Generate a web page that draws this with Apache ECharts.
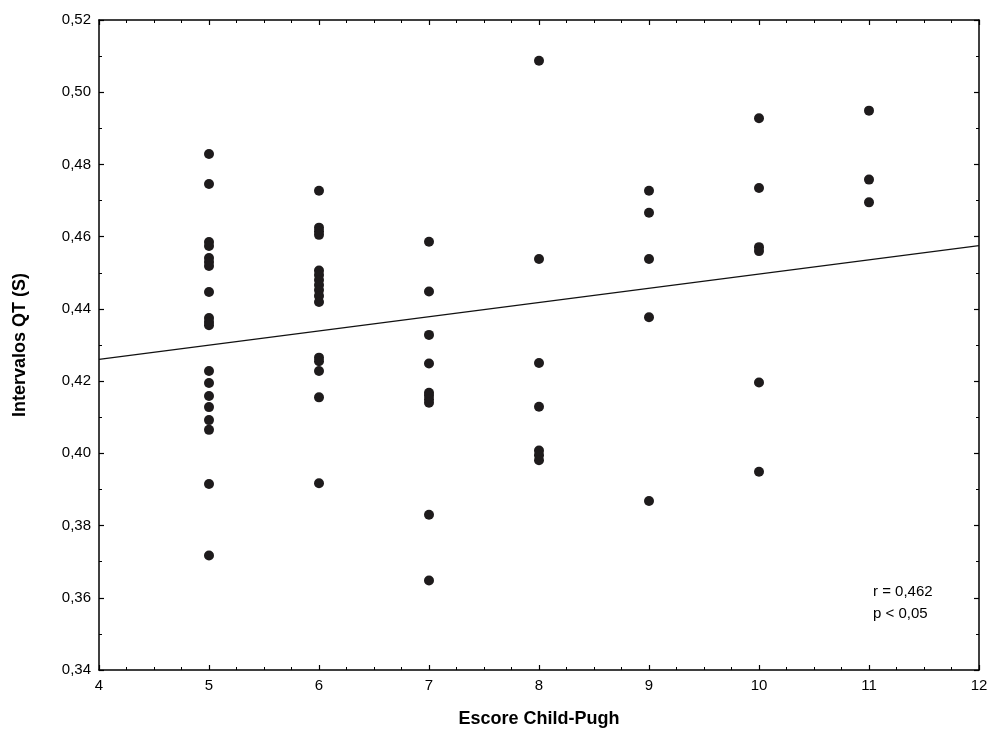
<!DOCTYPE html>
<html>
<head>
<meta charset="utf-8">
<script src="https://cdn.jsdelivr.net/npm/echarts@6/dist/echarts.min.js"></script>
<style>
  html, body { margin: 0; padding: 0; background: #fff; }
  #chart { width: 994px; height: 738px; }
</style>
</head>
<body>
<div id="chart"></div>
<script>
var myChart = echarts.init(document.getElementById('chart'));

// Child-Pugh score for each group of points
var scores = [5, 6, 7, 8, 9, 10, 11];
// QT intervals (s) read per score
var qt5 = [0.4829, 0.4746, 0.4585, 0.4574, 0.4541, 0.4530, 0.4519, 0.4447, 0.4375, 0.4364, 0.4355,
           0.4228, 0.4195, 0.4159, 0.4128, 0.4092, 0.4065, 0.3915, 0.3717];
var qt6 = [0.4727, 0.4625, 0.4615, 0.4605, 0.4506, 0.4494, 0.4480, 0.4466, 0.4452, 0.4436, 0.4419,
           0.4265, 0.4255, 0.4228, 0.4155, 0.3917];
var qt7 = [0.4586, 0.4448, 0.4328, 0.4249, 0.4168, 0.4160, 0.4150, 0.4140, 0.3830, 0.3648];
var qt8 = [0.5087, 0.4538, 0.4250, 0.4129, 0.4008, 0.3995, 0.3981];
var qt9 = [0.4727, 0.4666, 0.4538, 0.4377, 0.3868];
var qt10 = [0.4928, 0.4735, 0.4571, 0.4560, 0.4196, 0.3949];
var qt11 = [0.4949, 0.4758, 0.4695];
// regression line end points [score, qt]
var fitLine = [[4, 0.4260], [12, 0.4575]];
var statsText = ['r = 0,462', 'p < 0,05'];

var groups = [qt5, qt6, qt7, qt8, qt9, qt10, qt11];
var points = [];
groups.forEach(function (g, i) {
  g.forEach(function (v) { points.push([scores[i], v]); });
});

var font = 'Liberation Sans, Arial, sans-serif';
var axisLine = { show: true, onZero: false, lineStyle: { color: '#000', width: 1.5 } };

var option = {
  animation: false,
  backgroundColor: '#fff',
  grid: { left: 99, right: 15, top: 20, bottom: 68 },
  xAxis: [{
    type: 'value', min: 4, max: 12, interval: 1, position: 'bottom',
    name: 'Escore Child-Pugh', nameLocation: 'middle', nameGap: 40,
    nameTextStyle: { fontFamily: font, fontSize: 18, fontWeight: 'bold', color: '#000' },
    axisLine: axisLine,
    axisTick: { inside: true, length: 5, lineStyle: { color: '#000', width: 1.2 } },
    minorTick: { show: true, splitNumber: 4, length: 3, lineStyle: { color: '#000', width: 1 } },
    axisLabel: { fontFamily: font, fontSize: 15, color: '#000', margin: 8 },
    splitLine: { show: false }
  }, {
    type: 'value', min: 4, max: 12, interval: 1, position: 'top',
    axisLine: axisLine,
    axisTick: { inside: true, length: 5, lineStyle: { color: '#000', width: 1.2 } },
    minorTick: { show: true, splitNumber: 4, length: 3, lineStyle: { color: '#000', width: 1 } },
    axisLabel: { show: false },
    splitLine: { show: false }
  }],
  yAxis: [{
    type: 'value', min: 0.34, max: 0.52, interval: 0.02, position: 'left',
    name: 'Intervalos QT (S)', nameLocation: 'middle', nameGap: 70, nameRotate: 90,
    nameTextStyle: { fontFamily: font, fontSize: 18, fontWeight: 'bold', color: '#000' },
    axisLine: axisLine,
    axisTick: { inside: true, length: 5, lineStyle: { color: '#000', width: 1.2 } },
    minorTick: { show: true, splitNumber: 2, length: 3, lineStyle: { color: '#000', width: 1 } },
    axisLabel: {
      fontFamily: font, fontSize: 15, color: '#000', margin: 8,
      formatter: function (v) { return v.toFixed(2).replace('.', ','); }
    },
    splitLine: { show: false }
  }, {
    type: 'value', min: 0.34, max: 0.52, interval: 0.02, position: 'right',
    axisLine: axisLine,
    axisTick: { inside: true, length: 5, lineStyle: { color: '#000', width: 1.2 } },
    minorTick: { show: true, splitNumber: 2, length: 3, lineStyle: { color: '#000', width: 1 } },
    axisLabel: { show: false },
    splitLine: { show: false }
  }],
  graphic: [{
    type: 'text', left: 873, top: 581,
    style: { text: statsText.join('\n'), font: '15px ' + font, fill: '#000', lineHeight: 22 }
  }],
  series: [{
    type: 'line',
    data: fitLine,
    symbol: 'none',
    lineStyle: { color: '#111', width: 1.3 },
    z: 1
  }, {
    type: 'scatter',
    data: points,
    symbolSize: 10,
    itemStyle: { color: '#1e1b1c', opacity: 1 },
    z: 2
  }]
};

myChart.setOption(option);
</script>
</body>
</html>
